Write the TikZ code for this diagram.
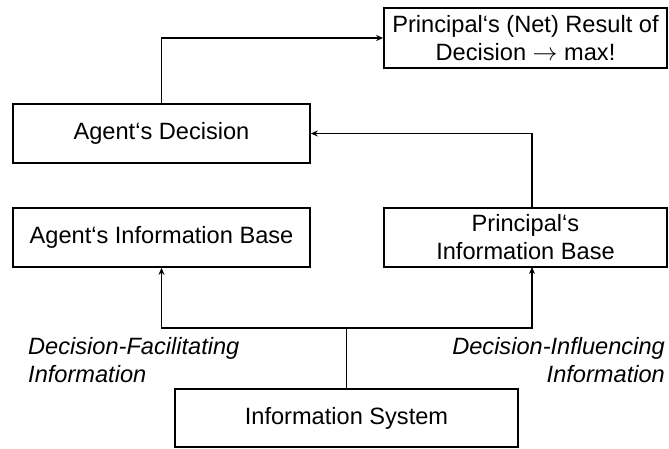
\documentclass[tikz,border=0pt]{standalone}
\usepackage{fontspec}
\setmainfont{Liberation Sans}
\usetikzlibrary{arrows.meta}
\begin{document}
\begin{tikzpicture}[x=1pt,y=-1pt,
  box/.style={draw, line width=1.7pt, inner sep=0pt, align=center,
    font=\fontsize{23.6}{28}\selectfont},
  conn/.style={line width=1.7pt},
  arr/.style={conn, -{Stealth[length=7pt,width=6pt]}},
  lbl/.style={inner sep=0pt, font=\fontsize{23.6}{27.5}\selectfont\itshape}]
\useasboundingbox (0,0) rectangle (669,448);
\node[box, minimum width=283pt, minimum height=60pt] (top) at (525.5,38) {Principal‘s (Net) Result of\\Decision {\normalfont$\rightarrow$} max!};
\node[box, minimum width=297pt, minimum height=59pt] (dec) at (161.5,133.5) {Agent‘s Decision};
\node[box, minimum width=297pt, minimum height=59pt] (aib) at (161.5,237.5) {Agent‘s Information Base};
\node[box, minimum width=283pt, minimum height=59pt] (pib) at (525.5,237.5) {Principal‘s\\Information Base};
\node[box, minimum width=343pt, minimum height=58pt] (is) at (346.5,418) {Information System};
\coordinate (pibin) at (532,208);
\coordinate (pibbot) at (532,267);
\coordinate (junc) at (346.5,328);
\node[lbl, anchor=west, align=left] (lf) at (28,360) {Decision-Facilitating\\Information};
\node[lbl, anchor=east, align=right] (li) at (665,360) {Decision-Influencing\\Information};
\draw[arr] (dec.north) |- (top.west);
\draw[arr] (pibin) |- (dec.east);
\draw[conn] (is.north) -- (junc);
\draw[arr] (junc) -| (aib.south);
\draw[arr] (junc) -| (pibbot);
\end{tikzpicture}
\end{document}
